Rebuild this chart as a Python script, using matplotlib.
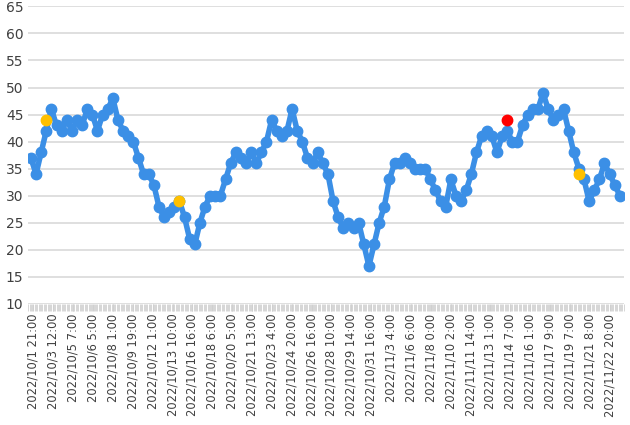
import matplotlib.pyplot as plt
import numpy as np

values = [37, 34, 38, 42, 46, 43, 42, 44, 42, 44, 43, 46, 45, 42, 45, 46, 48, 44, 42, 41,
          40, 37, 34, 34, 32, 28, 26, 27, 28, 29, 26, 22, 21, 25, 28, 30, 30, 30, 33, 36,
          38, 37, 36, 38, 36, 38, 40, 44, 42, 41, 42, 46, 42, 40, 37, 36, 38, 36, 34, 29,
          26, 24, 25, 24, 25, 21, 17, 21, 25, 28, 33, 36, 36, 37, 36, 35, 35, 35, 33, 31,
          29, 28, 33, 30, 29, 31, 34, 38, 41, 42, 41, 38, 41, 42, 40, 40, 43, 45, 46, 46,
          49, 46, 44, 45, 46, 42, 38, 35, 33, 29, 31, 33, 36, 34, 32, 30]

labels = ["2022/10/1 21:00", "2022/10/3 12:00", "2022/10/5 7:00", "2022/10/6 5:00",
          "2022/10/8 1:00", "2022/10/9 19:00", "2022/10/12 1:00", "2022/10/13 10:00",
          "2022/10/16 16:00", "2022/10/18 6:00", "2022/10/20 5:00", "2022/10/21 13:00",
          "2022/10/23 4:00", "2022/10/24 20:00", "2022/10/26 16:00", "2022/10/28 10:00",
          "2022/10/29 14:00", "2022/10/31 16:00", "2022/11/3 4:00", "2022/11/6 6:00",
          "2022/11/8 0:00", "2022/11/10 2:00", "2022/11/11 14:00", "2022/11/13 1:00",
          "2022/11/14 7:00", "2022/11/16 1:00", "2022/11/17 9:00", "2022/11/19 7:00",
          "2022/11/21 8:00", "2022/11/22 20:00"]

yellow_idx = [3, 29, 107]
yellow_val = [44, 29, 34]
red_idx = [93]
red_val = [44]

fig, ax = plt.subplots(figsize=(6.3, 4.25), dpi=100)
fig.subplots_adjust(left=0.045, right=0.99, top=0.985, bottom=0.285)

x = np.arange(len(values))
ax.plot(x, values, color='#3b8fe6', lw=4, marker='o', ms=7.5, zorder=3)
ax.plot(yellow_idx, yellow_val, 'o', color='#ffc000', ms=7.5, zorder=4)
ax.plot(red_idx, red_val, 'o', color='#ff0000', ms=7.5, zorder=4)

ax.set_ylim(10, 65)
ax.set_yticks(range(10, 70, 5))
ax.set_xlim(-0.5, len(values) - 0.5)
ax.grid(axis='y', color='#d9d9d9', lw=1.2)
ax.set_axisbelow(True)
for s in ax.spines.values():
    s.set_visible(False)

ax.set_xticks(np.linspace(0.5, len(values) - 3, len(labels)))
ax.set_xticklabels(labels, rotation=90, fontsize=8.3, color='#404040')
ax.set_xticks(np.arange(-0.5, len(values), 0.25), minor=True)
ax.tick_params(axis='x', which='minor', length=5, color='#d0d0d0', width=0.6)
ax.tick_params(axis='x', which='major', length=5, color='#d0d0d0', pad=2)
ax.tick_params(axis='y', length=0, labelsize=10, labelcolor='#404040')

fig.savefig('out.png')
